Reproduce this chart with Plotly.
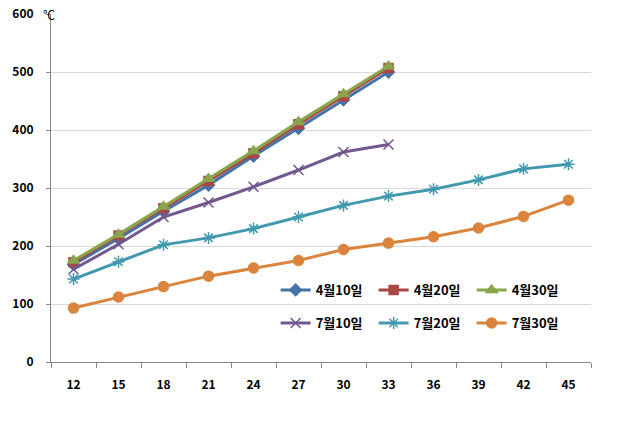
import plotly.graph_objects as go

categories = ["12", "15", "18", "21", "24", "27", "30", "33", "36", "39", "42", "45"]
apr10 = [168, 213, 260, 305, 355, 403, 452, 500]
apr20 = [172, 218, 265, 312, 360, 410, 458, 507]
apr30 = [175, 220, 268, 316, 364, 414, 462, 510]
jul10 = [160, 203, 250, 275, 302, 331, 362, 375]
jul20 = [143, 173, 202, 214, 230, 250, 270, 286, 298, 314, 333, 341]
jul30 = [93, 112, 130, 148, 162, 175, 194, 205, 216, 231, 251, 279]

series = [
    ("4월10일", apr10, "#4572A7", "diamond", 9, "legend"),
    ("4월20일", apr20, "#AA4643", "square", 9, "legend"),
    ("4월30일", apr30, "#89A54E", "triangle-up", 10, "legend"),
    ("7월10일", jul10, "#71588F", "x-thin-open", 10, "legend2"),
    ("7월20일", jul20, "#4198AF", "asterisk-open", 10, "legend2"),
    ("7월30일", jul30, "#DB843D", "circle", 10, "legend2"),
]

fig = go.Figure()
for name, vals, color, sym, size, lg in series:
    fig.add_trace(go.Scatter(
        x=categories[:len(vals)], y=vals, name=name, mode="lines+markers",
        line=dict(color=color, width=3),
        marker=dict(symbol=sym, size=size, color=color,
                    line=dict(color=color, width=1.5)),
        legend=lg,
    ))

font_family = "Noto Sans CJK KR, Noto Sans, sans-serif"
legend_common = dict(
    orientation="h", xanchor="left", yanchor="middle",
    bgcolor="rgba(0,0,0,0)", entrywidth=53, entrywidthmode="pixels",
    font=dict(family=font_family, size=13, color="black", weight="bold"),
    itemwidth=30,
)
fig.update_layout(
    width=632, height=424,
    margin=dict(l=51, r=41, t=14, b=62, autoexpand=False),
    paper_bgcolor="white", plot_bgcolor="white",
    font=dict(family=font_family, size=12, color="black"),
    xaxis=dict(
        type="category", categoryorder="array", categoryarray=categories,
        range=[-0.5, 11.5], tickson="boundaries", ticks="outside",
        ticklen=5, tickcolor="#868686", showline=True, linecolor="#868686",
        linewidth=1, showgrid=False, ticklabelstandoff=12, automargin=False,
        tickfont=dict(family=font_family, size=12, color="black", weight="bold"),
    ),
    yaxis=dict(
        range=[0, 600], tickvals=[0, 100, 200, 300, 400, 500, 600],
        ticks="outside", ticklen=4, tickcolor="#868686",
        showline=True, linecolor="#868686", linewidth=1, automargin=False,
        showgrid=True, gridcolor="#D9D9D9", gridwidth=1, zeroline=False,
        ticklabelstandoff=10,
        tickfont=dict(family=font_family, size=12, color="black", weight="bold"),
    ),
    legend=dict(x=0.416, y=0.207, **legend_common),
    legend2=dict(x=0.416, y=0.112, **legend_common),
    annotations=[dict(
        text="℃", xref="paper", yref="y", x=-0.003, y=600,
        xanchor="center", yanchor="middle", showarrow=False,
        font=dict(family=font_family, size=12, color="black"),
    )],
)

fig.write_html(
    "out.html",
    config={"displayModeBar": False},
    post_script="document.body.style.margin='0';document.body.style.overflow='hidden';",
)
